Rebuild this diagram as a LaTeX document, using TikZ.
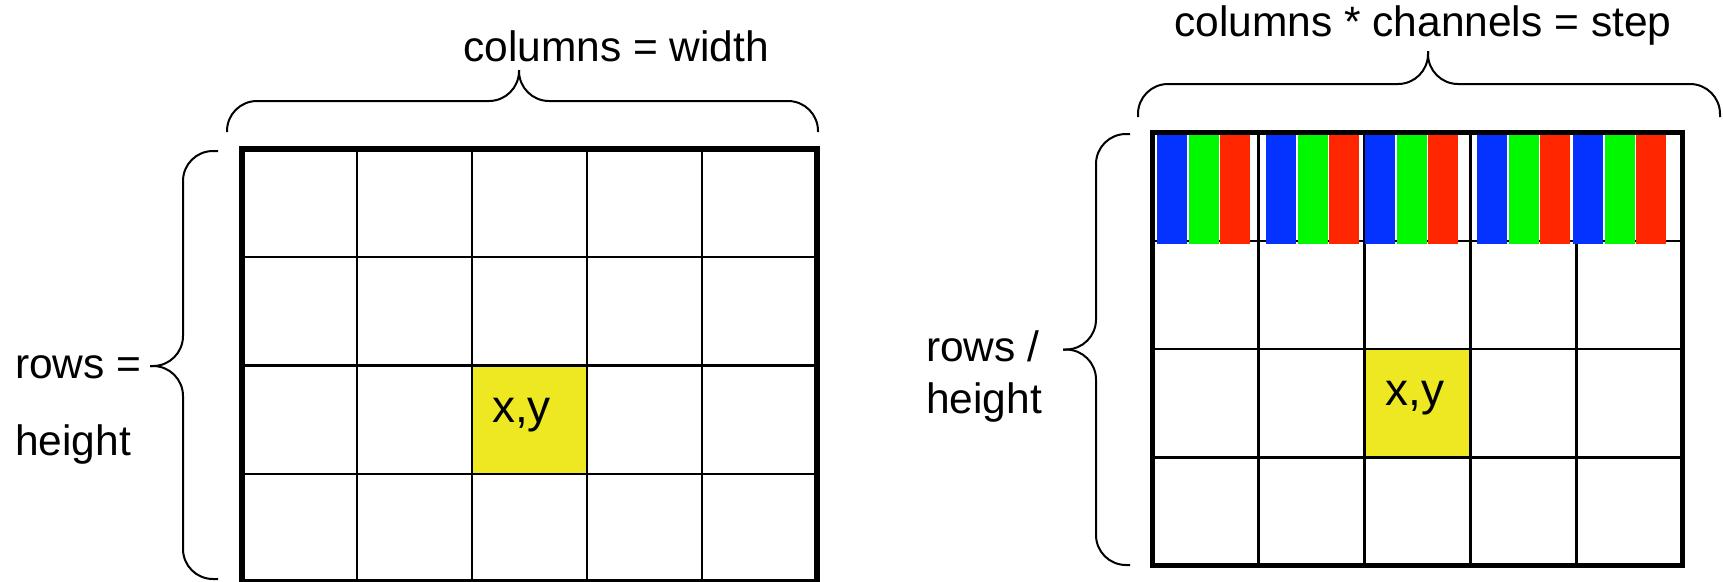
\documentclass[tikz,border=0pt]{standalone}
\usepackage{fontspec}
\setmainfont{Liberation Sans}
\definecolor{pixyellow}{RGB}{237,232,33}
\definecolor{chblue}{RGB}{4,51,255}
\definecolor{chgreen}{RGB}{0,249,0}
\definecolor{chred}{RGB}{255,38,0}
\begin{document}
\begin{tikzpicture}[
      x=1pt,y=-1pt,
      cell/.style={line width=2.2pt,draw=black},
      frame/.style={line width=5.5pt,draw=black},
      brace/.style={line width=2pt,rounded corners=30pt},
      lbl/.style={font=\fontsize{42.5}{51}\selectfont,inner sep=0pt,anchor=base west},
      pix/.style={lbl,font=\fontsize{46}{55}\selectfont},
      ]
      \useasboundingbox (0,0) rectangle (1723,581);
      % left: one value per pixel
      \fill[pixyellow] (472,365.5) rectangle (587,473.75);
      \foreach \x in {357,472,587,702} \draw[cell] (\x,149) -- (\x,582);
      \foreach \y in {257.25,365.5,473.75} \draw[cell] (242,\y) -- (817,\y);
      \draw[frame] (242,149) rectangle (817,582);
      \node[pix] (pixL) at (492,422) {x,y};
      % braces round the left grid
      \draw[brace] (227,132) |- (519,101) -- (519,70);
      \draw[brace] (519,70) |- (818,101) -- (818,132);
      \draw[brace] (218,151) -| (183,366) -- (150,366);
      \draw[brace] (150,366) -| (183,579) -- (218,579);
      \node[lbl] (colsL) at (463,61) {columns = width};
      \node[lbl] (rowsL) at (15,378) {rows =};
      \node[lbl] (heightL) at (15,455) {height};
      % right: channels side by side in a row
      \fill[pixyellow] (1364.5,349) rectangle (1470.5,457.4);
      \foreach \x in {1258.5,1364.5,1470.5,1576.5} \draw[cell] (\x,132.5) -- (\x,565.7);
      \foreach \y in {240.8,349,457.4} \draw[cell] (1152.5,\y) -- (1682.5,\y);
      \foreach \s in {1157,1266,1365,1477,1573} {
        \fill[chblue] (\s,132.5) rectangle +(30,111.5);
        \fill[chgreen] (\s+31.5,132.5) rectangle +(30,111.5);
        \fill[chred] (\s+63,132.5) rectangle +(30,111.5);
      }
      \draw[frame] (1152.5,132.5) rectangle (1682.5,565.7);
      \node[pix] (pixR) at (1385,405) {x,y};
      % braces round the right grid
      \draw[brace] (1138,117) |- (1428,84) -- (1428,51);
      \draw[brace] (1428,51) |- (1720,84) -- (1720,117);
      \draw[brace] (1130,134) -| (1096,349.5) -- (1063,349.5);
      \draw[brace] (1063,349.5) -| (1096,565) -- (1130,565);
      \node[lbl] (colsR) at (1174,36) {columns * channels = step};
      \node[lbl] (rowsR) at (926,361) {rows /};
      \node[lbl] (heightR) at (926,413) {height};
\end{tikzpicture}
\end{document}
